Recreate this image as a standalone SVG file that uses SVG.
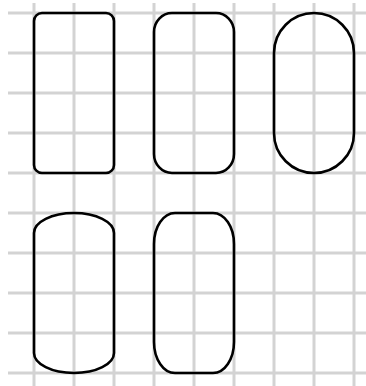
<svg xmlns="http://www.w3.org/2000/svg" width="366" height="386" viewBox="0 0 366 386">
<style>
.grid line{stroke:#d3d3d3;stroke-width:3}
.shape{fill:none;stroke:#000;stroke-width:2.6}
</style>
<rect width="366" height="386" fill="#fff"/>
<g id="grid" class="grid">
<line x1="8" y1="13" x2="366" y2="13"/>
<line x1="8" y1="53" x2="366" y2="53"/>
<line x1="8" y1="93" x2="366" y2="93"/>
<line x1="8" y1="133" x2="366" y2="133"/>
<line x1="8" y1="173" x2="366" y2="173"/>
<line x1="8" y1="213" x2="366" y2="213"/>
<line x1="8" y1="253" x2="366" y2="253"/>
<line x1="8" y1="293" x2="366" y2="293"/>
<line x1="8" y1="333" x2="366" y2="333"/>
<line x1="8" y1="373" x2="366" y2="373"/>
<line x1="34" y1="3" x2="34" y2="386"/>
<line x1="74" y1="3" x2="74" y2="386"/>
<line x1="114" y1="3" x2="114" y2="386"/>
<line x1="154" y1="3" x2="154" y2="386"/>
<line x1="194" y1="3" x2="194" y2="386"/>
<line x1="234" y1="3" x2="234" y2="386"/>
<line x1="274" y1="3" x2="274" y2="386"/>
<line x1="314" y1="3" x2="314" y2="386"/>
<line x1="354" y1="3" x2="354" y2="386"/>
</g>
<g id="shape1"><rect class="shape" x="34" y="13" width="80" height="160" rx="8" ry="8"/></g>
<g id="shape2"><rect class="shape" x="154" y="13" width="80" height="160" rx="18" ry="19"/></g>
<g id="shape3"><rect class="shape" x="274" y="13" width="80" height="160" rx="40" ry="40"/></g>
<g id="shape4"><path class="shape" d="M34,233 A40,20 0 0 1 114,233 L114,353 A40,20 0 0 1 34,353 Z"/></g>
<g id="shape5"><rect class="shape" x="154" y="213" width="80" height="160" rx="21" ry="31"/></g>
<g id="connectors"/>
</svg>
